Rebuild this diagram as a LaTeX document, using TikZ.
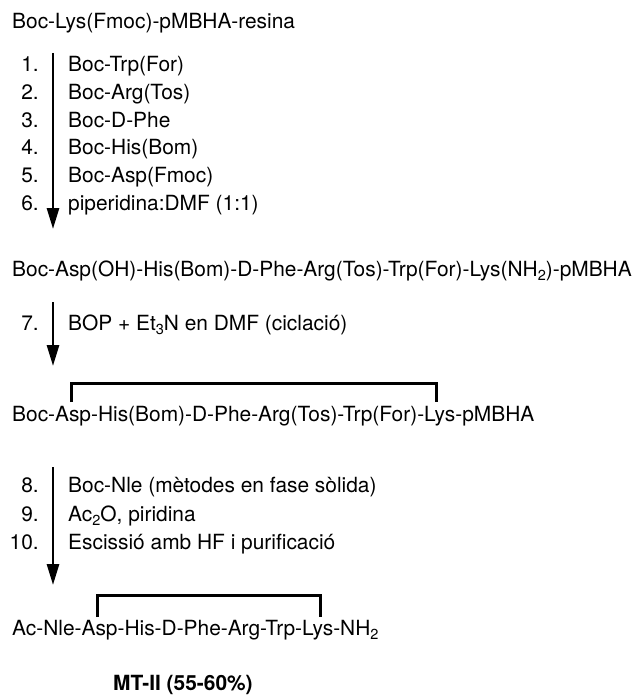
\documentclass[tikz,border=0pt]{standalone}
\usepackage{fontspec}
\setmainfont{TeX Gyre Heros}
\usetikzlibrary{arrows.meta}
\newcommand\subx[1]{\raisebox{-4.5pt}{\fontsize{14.5}{14.5}\selectfont #1}}
\begin{document}
\begin{tikzpicture}[x=1pt,y=-1pt,
  txt/.style={anchor=base west, inner sep=0pt, font=\fontsize{20.9}{25}\selectfont},
  num/.style={anchor=base east, inner sep=0pt, font=\fontsize{20.9}{25}\selectfont},
  arr/.style={line width=2.8pt, -{Triangle[length=21pt,width=12pt]}},
  brk/.style={line width=3pt, line join=miter}]
\useasboundingbox (0,0) rectangle (641,695);
% start
\node[txt] (s1) at (12,29) {Boc-Lys(Fmoc)-pMBHA-resina};
% steps 1-6
\node[num] (n1) at (39,72) {1.};   \node[txt] (r1) at (68,72) {Boc-Trp(For)};
\node[num] (n2) at (39,99.6) {2.}; \node[txt] (r2) at (68,99.6) {Boc-Arg(Tos)};
\node[num] (n3) at (39,127.2) {3.};\node[txt] (r3) at (68,127.2) {Boc-D-Phe};
\node[num] (n4) at (39,154.8) {4.};\node[txt] (r4) at (68,154.8) {Boc-His(Bom)};
\node[num] (n5) at (39,182.4) {5.};\node[txt] (r5) at (68,182.4) {Boc-Asp(Fmoc)};
\node[num] (n6) at (39,210) {6.};  \node[txt] (r6) at (68,210) {piperidina:DMF (1:1)};
\coordinate (a1s) at (53,53);
\coordinate (a1e) at (53,229);
\draw[arr] (a1s) -- (a1e);
% intermediate 1
\node[txt] (s2) at (12,276) {Boc-Asp(OH)-His(Bom)-D-Phe-Arg(Tos)-Trp(For)-Lys(NH\subx{2})-pMBHA};
% step 7
\node[num] (n7) at (39,330) {7.};
\node[txt] (r7) at (68,330) {BOP + Et\subx{3}N en DMF (ciclació)};
\coordinate (a2s) at (53,302);
\coordinate (a2e) at (53,366);
\draw[arr] (a2s) -- (a2e);
% cyclic intermediate
\coordinate (b1a) at (71,402);
\coordinate (b1b) at (71,383);
\coordinate (b1c) at (436,383);
\coordinate (b1d) at (436,402);
\draw[brk] (b1a) -- (b1b) -- (b1c) -- (b1d);
\node[txt] (s3) at (12,421) {Boc-Asp-His(Bom)-D-Phe-Arg(Tos)-Trp(For)-Lys-pMBHA};
% steps 8-10
\node[num] (n8) at (39,492) {8.};   \node[txt] (r8) at (68,492) {Boc-Nle (mètodes en fase sòlida)};
\node[num] (n9) at (39,521) {9.};   \node[txt] (r9) at (68,521) {Ac\subx{2}O, piridina};
\node[num] (n10) at (39,549) {10.}; \node[txt] (r10) at (68,549) {Escissió amb HF i purificació};
\coordinate (a3s) at (53,467);
\coordinate (a3e) at (53,585);
\draw[arr] (a3s) -- (a3e);
% final product
\coordinate (b2a) at (97,617);
\coordinate (b2b) at (97,595);
\coordinate (b2c) at (320,595);
\coordinate (b2d) at (320,617);
\draw[brk] (b2a) -- (b2b) -- (b2c) -- (b2d);
\node[txt] (s4) at (12,635) {Ac-Nle-Asp-His-D-Phe-Arg-Trp-Lys-NH\subx{2}};
\node[txt, font=\fontsize{20.9}{25}\selectfont\bfseries] (mt) at (113,690) {MT-II (55-60\%)};
\end{tikzpicture}
\end{document}
